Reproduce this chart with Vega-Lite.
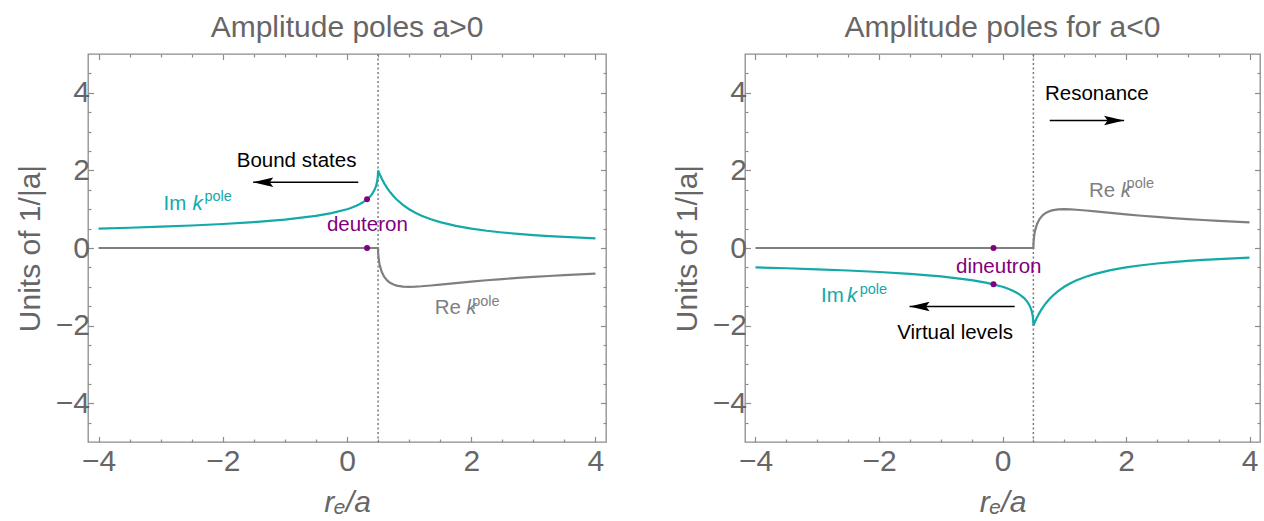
{
  "$schema": "https://vega.github.io/schema/vega-lite/v6.json",
  "padding": {"left": 14, "top": 12, "right": 0, "bottom": 0},
  "spacing": 63,
  "config": {
    "font": "Liberation Sans",
    "view": {"stroke": "#8c8c8c", "strokeWidth": 1.3},
    "axis": {"domain": false, "grid": false, "labelFont": "Liberation Sans", "labelFontSize": 30, "labelColor": "#666666", "tickColor": "#8c8c8c", "tickWidth": 1.2, "titleFont": "Liberation Sans", "titleFontSize": 30, "titleColor": "#666666", "titleFontWeight": "normal", "labelOverlap": false, "labelFlush": false, "format": "d"},
    "title": {"font": "Liberation Sans", "fontSize": 30, "color": "#666666", "fontWeight": "normal", "offset": 10}
  },
  "datasets": {
    "divide": [{"x": 0.5}],
    "curvesA": [
      {"x": -4, "y": 0.5, "part": "Im"}, {"x": -3.5, "y": 0.5224, "part": "Im"}, {"x": -3, "y": 0.5486, "part": "Im"}, {"x": -2.5, "y": 0.5798, "part": "Im"}, {"x": -2, "y": 0.618, "part": "Im"}, {"x": -1.5, "y": 0.6667, "part": "Im"}, {"x": -1, "y": 0.7321, "part": "Im"}, {"x": -0.5, "y": 0.8284, "part": "Im"}, {"x": -0.25, "y": 0.899, "part": "Im"}, {"x": 0, "y": 1, "part": "Im"}, {"x": 0.05, "y": 1.0263, "part": "Im"}, {"x": 0.1, "y": 1.0557, "part": "Im"}, {"x": 0.15, "y": 1.0889, "part": "Im"}, {"x": 0.2, "y": 1.127, "part": "Im"}, {"x": 0.25, "y": 1.1716, "part": "Im"}, {"x": 0.3, "y": 1.2251, "part": "Im"}, {"x": 0.35, "y": 1.2922, "part": "Im"}, {"x": 0.4, "y": 1.382, "part": "Im"}, {"x": 0.44, "y": 1.4854, "part": "Im"}, {"x": 0.47, "y": 1.6065, "part": "Im"}, {"x": 0.49, "y": 1.7522, "part": "Im"}, {"x": 0.498, "y": 1.8811, "part": "Im"}, {"x": 0.4995, "y": 1.9387, "part": "Im"}, {"x": 0.5, "y": 2, "part": "Im"}, {"x": 0.502, "y": 1.992, "part": "Im"}, {"x": 0.51, "y": 1.9608, "part": "Im"}, {"x": 0.52, "y": 1.9231, "part": "Im"}, {"x": 0.53, "y": 1.8868, "part": "Im"}, {"x": 0.56, "y": 1.7857, "part": "Im"}, {"x": 0.6, "y": 1.6667, "part": "Im"}, {"x": 0.65, "y": 1.5385, "part": "Im"}, {"x": 0.7, "y": 1.4286, "part": "Im"}, {"x": 0.75, "y": 1.3333, "part": "Im"}, {"x": 0.8, "y": 1.25, "part": "Im"}, {"x": 0.9, "y": 1.1111, "part": "Im"}, {"x": 1, "y": 1, "part": "Im"}, {"x": 1.1, "y": 0.9091, "part": "Im"}, {"x": 1.2, "y": 0.8333, "part": "Im"}, {"x": 1.35, "y": 0.7407, "part": "Im"}, {"x": 1.5, "y": 0.6667, "part": "Im"}, {"x": 1.75, "y": 0.5714, "part": "Im"}, {"x": 2, "y": 0.5, "part": "Im"}, {"x": 2.25, "y": 0.4444, "part": "Im"}, {"x": 2.5, "y": 0.4, "part": "Im"}, {"x": 2.75, "y": 0.3636, "part": "Im"}, {"x": 3, "y": 0.3333, "part": "Im"}, {"x": 3.25, "y": 0.3077, "part": "Im"}, {"x": 3.5, "y": 0.2857, "part": "Im"}, {"x": 3.75, "y": 0.2667, "part": "Im"}, {"x": 4, "y": 0.25, "part": "Im"},
      {"x": -4, "y": 0, "part": "Re"}, {"x": 0.5, "y": 0, "part": "Re"}, {"x": 0.502, "y": -0.126, "part": "Re"}, {"x": 0.51, "y": -0.2773, "part": "Re"}, {"x": 0.52, "y": -0.3846, "part": "Re"}, {"x": 0.53, "y": -0.4622, "part": "Re"}, {"x": 0.56, "y": -0.6186, "part": "Re"}, {"x": 0.6, "y": -0.7454, "part": "Re"}, {"x": 0.65, "y": -0.8427, "part": "Re"}, {"x": 0.7, "y": -0.9035, "part": "Re"}, {"x": 0.75, "y": -0.9428, "part": "Re"}, {"x": 0.8, "y": -0.9682, "part": "Re"}, {"x": 0.9, "y": -0.9938, "part": "Re"}, {"x": 1, "y": -1, "part": "Re"}, {"x": 1.1, "y": -0.9959, "part": "Re"}, {"x": 1.2, "y": -0.986, "part": "Re"}, {"x": 1.35, "y": -0.9658, "part": "Re"}, {"x": 1.5, "y": -0.9428, "part": "Re"}, {"x": 1.75, "y": -0.9035, "part": "Re"}, {"x": 2, "y": -0.866, "part": "Re"}, {"x": 2.25, "y": -0.8315, "part": "Re"}, {"x": 2.5, "y": -0.8, "part": "Re"}, {"x": 2.75, "y": -0.7714, "part": "Re"}, {"x": 3, "y": -0.7454, "part": "Re"}, {"x": 3.25, "y": -0.7216, "part": "Re"}, {"x": 3.5, "y": -0.6999, "part": "Re"}, {"x": 3.75, "y": -0.6799, "part": "Re"}, {"x": 4, "y": -0.6614, "part": "Re"}
    ],
    "curvesB": [
      {"x": -4, "y": -0.5, "part": "Im"}, {"x": -3.5, "y": -0.5224, "part": "Im"}, {"x": -3, "y": -0.5486, "part": "Im"}, {"x": -2.5, "y": -0.5798, "part": "Im"}, {"x": -2, "y": -0.618, "part": "Im"}, {"x": -1.5, "y": -0.6667, "part": "Im"}, {"x": -1, "y": -0.7321, "part": "Im"}, {"x": -0.5, "y": -0.8284, "part": "Im"}, {"x": -0.25, "y": -0.899, "part": "Im"}, {"x": 0, "y": -1, "part": "Im"}, {"x": 0.05, "y": -1.0263, "part": "Im"}, {"x": 0.1, "y": -1.0557, "part": "Im"}, {"x": 0.15, "y": -1.0889, "part": "Im"}, {"x": 0.2, "y": -1.127, "part": "Im"}, {"x": 0.25, "y": -1.1716, "part": "Im"}, {"x": 0.3, "y": -1.2251, "part": "Im"}, {"x": 0.35, "y": -1.2922, "part": "Im"}, {"x": 0.4, "y": -1.382, "part": "Im"}, {"x": 0.44, "y": -1.4854, "part": "Im"}, {"x": 0.47, "y": -1.6065, "part": "Im"}, {"x": 0.49, "y": -1.7522, "part": "Im"}, {"x": 0.498, "y": -1.8811, "part": "Im"}, {"x": 0.4995, "y": -1.9387, "part": "Im"}, {"x": 0.5, "y": -2, "part": "Im"}, {"x": 0.502, "y": -1.992, "part": "Im"}, {"x": 0.51, "y": -1.9608, "part": "Im"}, {"x": 0.52, "y": -1.9231, "part": "Im"}, {"x": 0.53, "y": -1.8868, "part": "Im"}, {"x": 0.56, "y": -1.7857, "part": "Im"}, {"x": 0.6, "y": -1.6667, "part": "Im"}, {"x": 0.65, "y": -1.5385, "part": "Im"}, {"x": 0.7, "y": -1.4286, "part": "Im"}, {"x": 0.75, "y": -1.3333, "part": "Im"}, {"x": 0.8, "y": -1.25, "part": "Im"}, {"x": 0.9, "y": -1.1111, "part": "Im"}, {"x": 1, "y": -1, "part": "Im"}, {"x": 1.1, "y": -0.9091, "part": "Im"}, {"x": 1.2, "y": -0.8333, "part": "Im"}, {"x": 1.35, "y": -0.7407, "part": "Im"}, {"x": 1.5, "y": -0.6667, "part": "Im"}, {"x": 1.75, "y": -0.5714, "part": "Im"}, {"x": 2, "y": -0.5, "part": "Im"}, {"x": 2.25, "y": -0.4444, "part": "Im"}, {"x": 2.5, "y": -0.4, "part": "Im"}, {"x": 2.75, "y": -0.3636, "part": "Im"}, {"x": 3, "y": -0.3333, "part": "Im"}, {"x": 3.25, "y": -0.3077, "part": "Im"}, {"x": 3.5, "y": -0.2857, "part": "Im"}, {"x": 3.75, "y": -0.2667, "part": "Im"}, {"x": 4, "y": -0.25, "part": "Im"},
      {"x": -4, "y": 0, "part": "Re"}, {"x": 0.5, "y": 0, "part": "Re"}, {"x": 0.502, "y": 0.126, "part": "Re"}, {"x": 0.51, "y": 0.2773, "part": "Re"}, {"x": 0.52, "y": 0.3846, "part": "Re"}, {"x": 0.53, "y": 0.4622, "part": "Re"}, {"x": 0.56, "y": 0.6186, "part": "Re"}, {"x": 0.6, "y": 0.7454, "part": "Re"}, {"x": 0.65, "y": 0.8427, "part": "Re"}, {"x": 0.7, "y": 0.9035, "part": "Re"}, {"x": 0.75, "y": 0.9428, "part": "Re"}, {"x": 0.8, "y": 0.9682, "part": "Re"}, {"x": 0.9, "y": 0.9938, "part": "Re"}, {"x": 1, "y": 1, "part": "Re"}, {"x": 1.1, "y": 0.9959, "part": "Re"}, {"x": 1.2, "y": 0.986, "part": "Re"}, {"x": 1.35, "y": 0.9658, "part": "Re"}, {"x": 1.5, "y": 0.9428, "part": "Re"}, {"x": 1.75, "y": 0.9035, "part": "Re"}, {"x": 2, "y": 0.866, "part": "Re"}, {"x": 2.25, "y": 0.8315, "part": "Re"}, {"x": 2.5, "y": 0.8, "part": "Re"}, {"x": 2.75, "y": 0.7714, "part": "Re"}, {"x": 3, "y": 0.7454, "part": "Re"}, {"x": 3.25, "y": 0.7216, "part": "Re"}, {"x": 3.5, "y": 0.6999, "part": "Re"}, {"x": 3.75, "y": 0.6799, "part": "Re"}, {"x": 4, "y": 0.6614, "part": "Re"}
    ],
    "statesA": [{"x": 0.323, "y": 1.254, "name": "deuteron"}, {"x": 0.323, "y": 0, "name": "deuteron"}],
    "statesB": [{"x": -0.1455, "y": -0.936, "name": "dineutron"}, {"x": -0.1455, "y": 0, "name": "dineutron"}],
    "labelsA": [
      {"t": "Bound states", "x": -0.812, "y": 2.083, "kind": "center", "part": "note"},
      {"t": "deuteron", "x": 0.328, "y": 0.433, "kind": "center", "part": "state"},
      {"t": "Im", "x": -2.955, "y": 0.992, "kind": "left", "part": "Im"},
      {"t": "k", "x": -2.489, "y": 0.992, "kind": "ital", "part": "Im"},
      {"t": "pole", "x": -2.296, "y": 1.224, "kind": "sup", "part": "Im"},
      {"t": "Re", "x": 1.411, "y": -1.696, "kind": "left", "part": "Re"},
      {"t": "k", "x": 1.92, "y": -1.696, "kind": "ital", "part": "Re"},
      {"t": "pole", "x": 2.016, "y": -1.482, "kind": "sup", "part": "Re"}
    ],
    "labelsB": [
      {"t": "Resonance", "x": 1.528, "y": 3.827, "kind": "center", "part": "note"},
      {"t": "dineutron", "x": -0.061, "y": -0.657, "kind": "center", "part": "state"},
      {"t": "Virtual levels", "x": -0.767, "y": -2.358, "kind": "center", "part": "note"},
      {"t": "Im", "x": -2.939, "y": -1.397, "kind": "left", "part": "Im"},
      {"t": "k", "x": -2.517, "y": -1.397, "kind": "ital", "part": "Im"},
      {"t": "pole", "x": -2.313, "y": -1.173, "kind": "sup", "part": "Im"},
      {"t": "Re", "x": 1.4, "y": 1.327, "kind": "left", "part": "Re"},
      {"t": "k", "x": 1.913, "y": 1.327, "kind": "ital", "part": "Re"},
      {"t": "pole", "x": 2.01, "y": 1.534, "kind": "sup", "part": "Re"}
    ],
    "arrowsA": [{"x": 0.181, "x2": -1.51, "y": 1.696, "dir": "left"}],
    "arrowsB": [{"x": 0.765, "x2": 1.969, "y": 3.286, "dir": "right"}, {"x": 0.197, "x2": -1.505, "y": -1.508, "dir": "left"}]
  },
  "hconcat": [
    {
      "width": 518, "height": 388,
      "title": "Amplitude poles a>0",
      "resolve": {"axis": {"x": "independent", "y": "independent"}},
      "layer": [
        {"data": {"name": "divide"}, "mark": {"type": "rule", "color": "#7a7a7a", "strokeDash": [2, 2.5], "strokeWidth": 1.5},
         "encoding": {"x": {"field": "x", "type": "quantitative", "scale": {"domain": [-4.17, 4.17], "nice": false, "zero": false}, "axis": null}}},
        {"data": {"name": "curvesA"}, "mark": {"type": "line", "strokeWidth": 2.2},
         "encoding": {
           "x": {"field": "x", "type": "quantitative", "axis": {"orient": "bottom", "values": [-4,-3.5,-3,-2.5,-2,-1.5,-1,-0.5,0,0.5,1,1.5,2,2.5,3,3.5,4], "labelExpr": "datum.value % 2 === 0 ? datum.label : ''", "tickSize": {"condition": {"test": "datum.value % 2 === 0", "value": -5.5}, "value": -3}, "labelPadding": 10, "title": "rₑ/a", "titleFontStyle": "italic", "titlePadding": 8}},
           "y": {"field": "y", "type": "quantitative", "scale": {"domain": [-5, 5], "nice": false, "zero": false}, "axis": {"orient": "left", "values": [-4.5,-4,-3.5,-3,-2.5,-2,-1.5,-1,-0.5,0,0.5,1,1.5,2,2.5,3,3.5,4,4.5], "labelExpr": "datum.value % 2 === 0 ? datum.label : ''", "tickSize": {"condition": {"test": "datum.value % 2 === 0", "value": -5.5}, "value": -3}, "labelPadding": 4, "title": "Units of 1/|a|", "titlePadding": 10}},
           "color": {"field": "part", "type": "nominal", "scale": {"domain": ["Im", "Re", "note", "state"], "range": ["#14a9a9", "#7f7f7f", "#000000", "#800080"]}, "legend": null},
           "order": {"field": "x", "type": "quantitative"}
         }},
        {"data": {"name": "statesA"}, "mark": {"type": "point", "filled": true, "opacity": 1, "size": 36, "color": "#800080"},
         "encoding": {
           "x": {"field": "x", "type": "quantitative", "axis": {"orient": "top", "values": [-4,-3.5,-3,-2.5,-2,-1.5,-1,-0.5,0,0.5,1,1.5,2,2.5,3,3.5,4], "labels": false, "tickSize": {"condition": {"test": "datum.value % 2 === 0", "value": -5.5}, "value": -3}, "title": null}},
           "y": {"field": "y", "type": "quantitative", "axis": {"orient": "right", "values": [-4.5,-4,-3.5,-3,-2.5,-2,-1.5,-1,-0.5,0,0.5,1,1.5,2,2.5,3,3.5,4,4.5], "labels": false, "tickSize": {"condition": {"test": "datum.value % 2 === 0", "value": -5.5}, "value": -3}, "title": null}}
         }},
        {"data": {"name": "arrowsA"}, "mark": {"type": "rule", "color": "#000000", "strokeWidth": 1.4},
         "encoding": {"x": {"field": "x", "type": "quantitative", "axis": null}, "x2": {"field": "x2"}, "y": {"field": "y", "type": "quantitative", "axis": null}}},
        {"data": {"name": "arrowsA"}, "transform": [{"filter": "datum.dir === 'left'"}], "mark": {"type": "point", "filled": true, "opacity": 1, "color": "#000000", "size": 400, "shape": "M 0 0 L 2 -0.47 L 1.65 0 L 2 0.47 Z"},
         "encoding": {"x": {"field": "x2", "type": "quantitative", "axis": null}, "y": {"field": "y", "type": "quantitative", "axis": null}}},
        {"data": {"name": "labelsA"}, "transform": [{"filter": "datum.kind === 'center'"}], "mark": {"type": "text", "align": "center", "baseline": "alphabetic", "fontSize": 20.5},
         "encoding": {"x": {"field": "x", "type": "quantitative", "axis": null}, "y": {"field": "y", "type": "quantitative", "axis": null}, "text": {"field": "t"}, "color": {"field": "part", "type": "nominal", "legend": null}}},
        {"data": {"name": "labelsA"}, "transform": [{"filter": "datum.kind === 'left'"}], "mark": {"type": "text", "align": "left", "baseline": "alphabetic", "fontSize": 20.5},
         "encoding": {"x": {"field": "x", "type": "quantitative", "axis": null}, "y": {"field": "y", "type": "quantitative", "axis": null}, "text": {"field": "t"}, "color": {"field": "part", "type": "nominal", "legend": null}}},
        {"data": {"name": "labelsA"}, "transform": [{"filter": "datum.kind === 'ital'"}], "mark": {"type": "text", "align": "left", "baseline": "alphabetic", "fontSize": 20.5, "fontStyle": "italic"},
         "encoding": {"x": {"field": "x", "type": "quantitative", "axis": null}, "y": {"field": "y", "type": "quantitative", "axis": null}, "text": {"field": "t"}, "color": {"field": "part", "type": "nominal", "legend": null}}},
        {"data": {"name": "labelsA"}, "transform": [{"filter": "datum.kind === 'sup'"}], "mark": {"type": "text", "align": "left", "baseline": "alphabetic", "fontSize": 14.5},
         "encoding": {"x": {"field": "x", "type": "quantitative", "axis": null}, "y": {"field": "y", "type": "quantitative", "axis": null}, "text": {"field": "t"}, "color": {"field": "part", "type": "nominal", "legend": null}}}
      ]
    },
    {
      "width": 515, "height": 388,
      "title": "Amplitude poles for a<0",
      "resolve": {"axis": {"x": "independent", "y": "independent"}},
      "layer": [
        {"data": {"name": "divide"}, "mark": {"type": "rule", "color": "#7a7a7a", "strokeDash": [2, 2.5], "strokeWidth": 1.5},
         "encoding": {"x": {"field": "x", "type": "quantitative", "scale": {"domain": [-4.17, 4.17], "nice": false, "zero": false}, "axis": null}}},
        {"data": {"name": "curvesB"}, "mark": {"type": "line", "strokeWidth": 2.2},
         "encoding": {
           "x": {"field": "x", "type": "quantitative", "axis": {"orient": "bottom", "values": [-4,-3.5,-3,-2.5,-2,-1.5,-1,-0.5,0,0.5,1,1.5,2,2.5,3,3.5,4], "labelExpr": "datum.value % 2 === 0 ? datum.label : ''", "tickSize": {"condition": {"test": "datum.value % 2 === 0", "value": -5.5}, "value": -3}, "labelPadding": 10, "title": "rₑ/a", "titleFontStyle": "italic", "titlePadding": 8}},
           "y": {"field": "y", "type": "quantitative", "scale": {"domain": [-5, 5], "nice": false, "zero": false}, "axis": {"orient": "left", "values": [-4.5,-4,-3.5,-3,-2.5,-2,-1.5,-1,-0.5,0,0.5,1,1.5,2,2.5,3,3.5,4,4.5], "labelExpr": "datum.value % 2 === 0 ? datum.label : ''", "tickSize": {"condition": {"test": "datum.value % 2 === 0", "value": -5.5}, "value": -3}, "labelPadding": 4, "title": "Units of 1/|a|", "titlePadding": 10}},
           "color": {"field": "part", "type": "nominal", "scale": {"domain": ["Im", "Re", "note", "state"], "range": ["#14a9a9", "#7f7f7f", "#000000", "#800080"]}, "legend": null},
           "order": {"field": "x", "type": "quantitative"}
         }},
        {"data": {"name": "statesB"}, "mark": {"type": "point", "filled": true, "opacity": 1, "size": 36, "color": "#800080"},
         "encoding": {
           "x": {"field": "x", "type": "quantitative", "axis": {"orient": "top", "values": [-4,-3.5,-3,-2.5,-2,-1.5,-1,-0.5,0,0.5,1,1.5,2,2.5,3,3.5,4], "labels": false, "tickSize": {"condition": {"test": "datum.value % 2 === 0", "value": -5.5}, "value": -3}, "title": null}},
           "y": {"field": "y", "type": "quantitative", "axis": {"orient": "right", "values": [-4.5,-4,-3.5,-3,-2.5,-2,-1.5,-1,-0.5,0,0.5,1,1.5,2,2.5,3,3.5,4,4.5], "labels": false, "tickSize": {"condition": {"test": "datum.value % 2 === 0", "value": -5.5}, "value": -3}, "title": null}}
         }},
        {"data": {"name": "arrowsB"}, "mark": {"type": "rule", "color": "#000000", "strokeWidth": 1.4},
         "encoding": {"x": {"field": "x", "type": "quantitative", "axis": null}, "x2": {"field": "x2"}, "y": {"field": "y", "type": "quantitative", "axis": null}}},
        {"data": {"name": "arrowsB"}, "transform": [{"filter": "datum.dir === 'left'"}], "mark": {"type": "point", "filled": true, "opacity": 1, "color": "#000000", "size": 400, "shape": "M 0 0 L 2 -0.47 L 1.65 0 L 2 0.47 Z"},
         "encoding": {"x": {"field": "x2", "type": "quantitative", "axis": null}, "y": {"field": "y", "type": "quantitative", "axis": null}}},
        {"data": {"name": "arrowsB"}, "transform": [{"filter": "datum.dir === 'right'"}], "mark": {"type": "point", "filled": true, "opacity": 1, "color": "#000000", "size": 400, "shape": "M 0 0 L -2 -0.47 L -1.65 0 L -2 0.47 Z"},
         "encoding": {"x": {"field": "x2", "type": "quantitative", "axis": null}, "y": {"field": "y", "type": "quantitative", "axis": null}}},
        {"data": {"name": "labelsB"}, "transform": [{"filter": "datum.kind === 'center'"}], "mark": {"type": "text", "align": "center", "baseline": "alphabetic", "fontSize": 20.5},
         "encoding": {"x": {"field": "x", "type": "quantitative", "axis": null}, "y": {"field": "y", "type": "quantitative", "axis": null}, "text": {"field": "t"}, "color": {"field": "part", "type": "nominal", "legend": null}}},
        {"data": {"name": "labelsB"}, "transform": [{"filter": "datum.kind === 'left'"}], "mark": {"type": "text", "align": "left", "baseline": "alphabetic", "fontSize": 20.5},
         "encoding": {"x": {"field": "x", "type": "quantitative", "axis": null}, "y": {"field": "y", "type": "quantitative", "axis": null}, "text": {"field": "t"}, "color": {"field": "part", "type": "nominal", "legend": null}}},
        {"data": {"name": "labelsB"}, "transform": [{"filter": "datum.kind === 'ital'"}], "mark": {"type": "text", "align": "left", "baseline": "alphabetic", "fontSize": 20.5, "fontStyle": "italic"},
         "encoding": {"x": {"field": "x", "type": "quantitative", "axis": null}, "y": {"field": "y", "type": "quantitative", "axis": null}, "text": {"field": "t"}, "color": {"field": "part", "type": "nominal", "legend": null}}},
        {"data": {"name": "labelsB"}, "transform": [{"filter": "datum.kind === 'sup'"}], "mark": {"type": "text", "align": "left", "baseline": "alphabetic", "fontSize": 14.5},
         "encoding": {"x": {"field": "x", "type": "quantitative", "axis": null}, "y": {"field": "y", "type": "quantitative", "axis": null}, "text": {"field": "t"}, "color": {"field": "part", "type": "nominal", "legend": null}}}
      ]
    }
  ]
}
